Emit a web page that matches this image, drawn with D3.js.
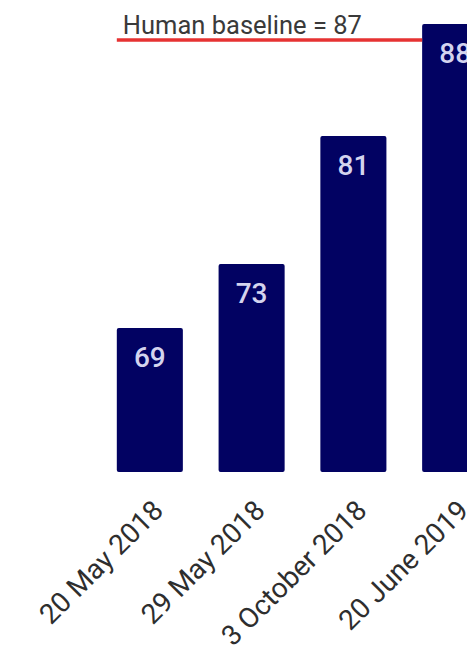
<!DOCTYPE html>
<html>
<head>
<meta charset="utf-8">
<script src="https://cdn.jsdelivr.net/npm/d3@7"></script>
<style>
  html, body { margin: 0; padding: 0; background: #fff; overflow: hidden; }
  svg { display: block; font-family: Roboto, "Noto Sans", sans-serif; }
</style>
</head>
<body>
<svg id="chart" width="467" height="652"></svg>
<script>
// GLUE benchmark scores by submission date
const dates = ["20 May 2018", "29 May 2018", "3 October 2018", "20 June 2019"];
const scores = [69, 73, 81, 88];
const humanBaseline = 87;
const baselineLabel = "Human baseline = " + humanBaseline;

const svg = d3.select("#chart");
const bottom = 472;

const x = d3.scaleBand()
  .domain(dates)
  .range([99, 506])
  .paddingInner(0.351)
  .paddingOuter(0.175);

const y = d3.scaleLinear()
  .domain([60, 89.5])
  .range([bottom, bottom - 29.5 * 16]);

const data = dates.map((d, i) => ({ date: d, score: scores[i] }));

// bars
svg.append("g")
  .selectAll("rect")
  .data(data)
  .join("rect")
  .attr("x", d => x(d.date))
  .attr("y", d => y(d.score))
  .attr("width", x.bandwidth())
  .attr("height", d => bottom - y(d.score))
  .attr("rx", 2)
  .attr("fill", "#020262");

// value labels inside the bars
svg.append("g")
  .selectAll("text")
  .data(data)
  .join("text")
  .attr("x", d => x(d.date) + x.bandwidth() / 2)
  .attr("y", d => y(d.score) + 39)
  .attr("text-anchor", "middle")
  .attr("font-size", 28)
  .attr("font-weight", 500)
  .attr("fill", "#d4d4ee")
  .text(d => d.score);

// human baseline reference line
const firstBand = x(dates[0]);
const lastBand = x(dates[dates.length - 1]);
svg.append("line")
  .attr("x1", firstBand)
  .attr("x2", lastBand)
  .attr("y1", y(humanBaseline))
  .attr("y2", y(humanBaseline))
  .attr("stroke", "#e63232")
  .attr("stroke-width", 3.5);

svg.append("text")
  .attr("x", firstBand + 6)
  .attr("y", y(humanBaseline) - 6)
  .attr("font-size", 25.5)
  .attr("fill", "#3a3a3a")
  .text(baselineLabel);

// x axis with rotated date labels
const xAxis = svg.append("g")
  .attr("transform", `translate(0,${bottom})`)
  .call(d3.axisBottom(x).tickSize(0).tickPadding(0));
xAxis.select(".domain").remove();
xAxis.selectAll("text")
  .attr("font-family", "Roboto, 'Noto Sans', sans-serif")
  .attr("font-size", 28)
  .attr("fill", "#2e2e2e")
  .attr("text-anchor", "end")
  .attr("dy", null)
  .attr("y", 0)
  .attr("transform", "translate(15,40) rotate(-45)");
</script>
</body>
</html>
